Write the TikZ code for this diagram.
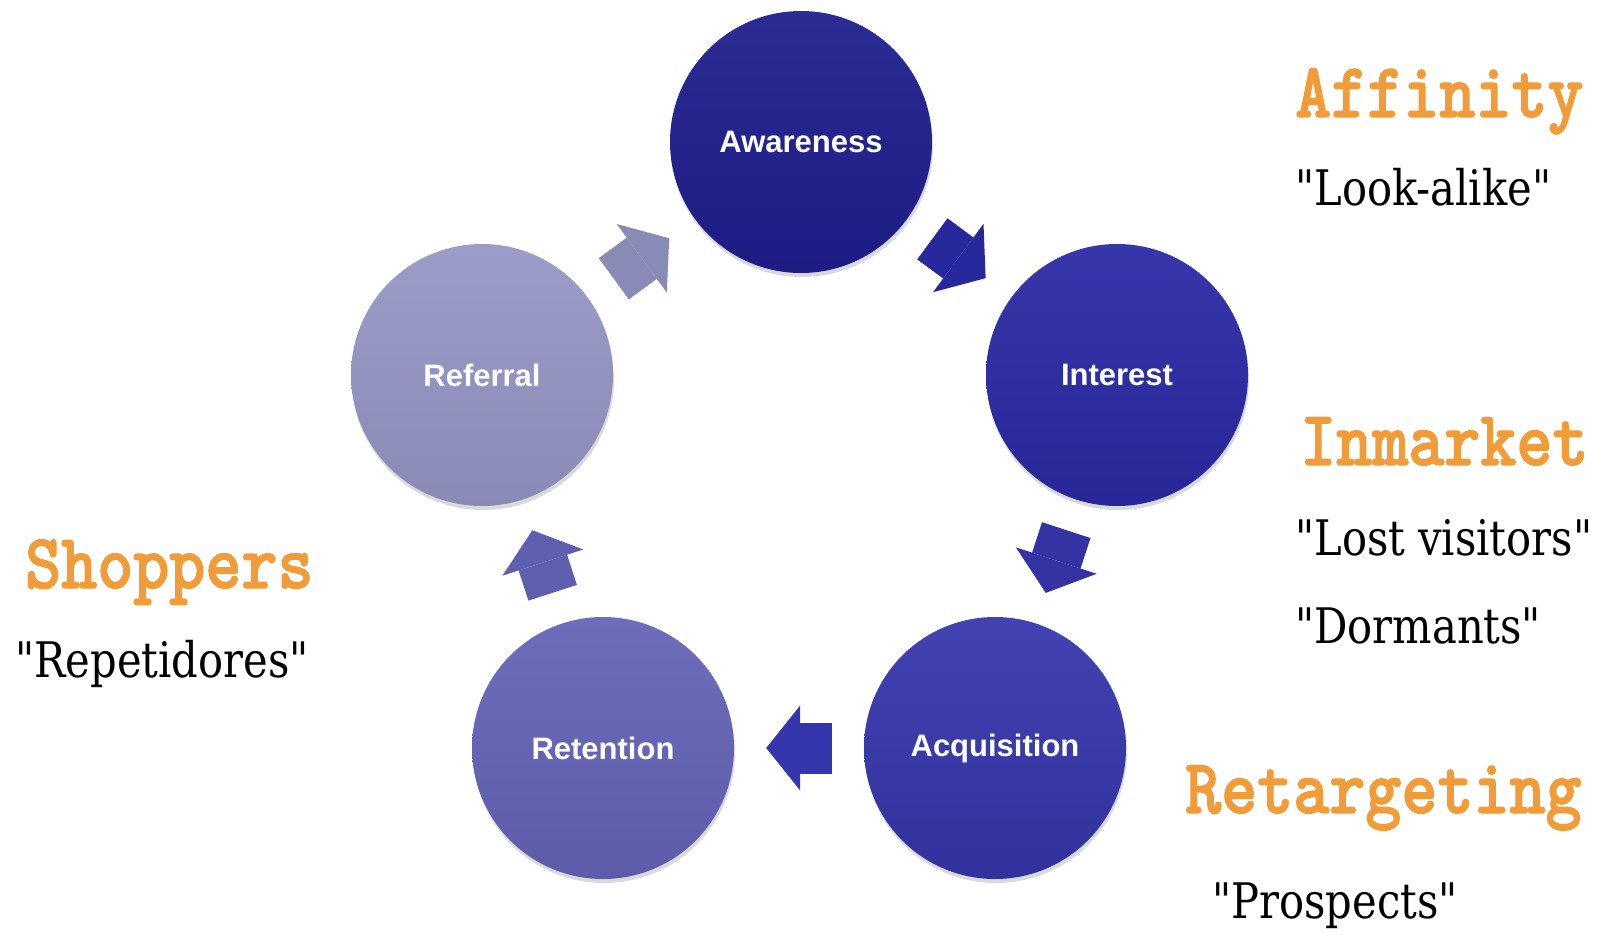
\documentclass[tikz,border=0pt]{standalone}
\usepackage{fontspec}
\usepackage{xcolor}
\usepackage{tikz}
\usetikzlibrary{arrows.meta}
\usetikzlibrary{shadows}
\setmainfont{Liberation Sans}
\newfontfamily\tagfont[FakeStretch=0.88, FakeBold=1.6]{lmmonolt10-bold.otf}
\newfontfamily\sayfont[FakeStretch=0.85]{DejaVu Serif}
\definecolor{awablue}{RGB}{30,30,142}
\definecolor{intblue}{RGB}{42,42,165}
\definecolor{acqblue}{RGB}{54,54,172}
\definecolor{retblue}{RGB}{100,100,184}
\definecolor{refblue}{RGB}{150,150,198}
\definecolor{tagorange}{RGB}{241,156,56}

\begin{document}
\begin{tikzpicture}[x=1pt,y=-1pt,
    stage/.style={circle, minimum size=262pt, inner sep=0pt, text=white,
        font=\bfseries\fontsize{31}{33}\selectfont,
        drop shadow={opacity=0.3, shadow xshift=1pt, shadow yshift=-4pt}},
    flow/.style={line width=51pt, shorten <=32pt, shorten >=32pt,
        -{Triangle[length=34pt, width=85pt, line width=0pt]}},
    tag/.style={anchor=base west, inner sep=0pt, text=tagorange,
        font=\tagfont\fontsize{78}{80}\selectfont},
    saying/.style={anchor=base west, inner sep=0pt,
        font=\sayfont\fontsize{49}{52}\selectfont}]
    \useasboundingbox (0,0) rectangle (1610,945);

    % Cycle stages
    \node[stage, top color=awablue!94!white, bottom color=awablue!92!black] (awa) at (801,142) {Awareness};
    \node[stage, top color=intblue!94!white, bottom color=intblue!92!black] (int) at (1117,375) {Interest};
    \node[stage, top color=acqblue!94!white, bottom color=acqblue!92!black] (acq) at (995,748) {Acquisition};
    \node[stage, top color=retblue!94!white, bottom color=retblue!92!black] (ret) at (603,748) {Retention};
    \node[stage, top color=refblue!94!white, bottom color=refblue!92!black] (ref) at (482,375) {Referral};

    % Arrows between stages
    \draw[flow, refblue!92!black] (ref) -- (awa);
    \draw[flow, intblue!95!black] (awa) -- (int);
    \draw[flow, acqblue!95!black] (int) -- (acq);
    \draw[flow, acqblue] (acq) -- (ret);
    \draw[flow, retblue!95!black] (ret) -- (ref);

    % Audiences
    \node[tag] (affinity) at (1295,117) {Affinity};
    \node[saying] (lookalike) at (1295,205) {"Look-alike"};
    \node[tag] (inmarket) at (1300,465) {Inmarket};
    \node[saying] (lost) at (1295,555) {"Lost visitors"};
    \node[saying] (dormants) at (1295,643) {"Dormants"};
    \node[tag] (retargeting) at (1185,813) {Retargeting};
    \node[saying] (prospects) at (1212,918) {"Prospects"};
    \node[tag] (shoppers) at (25,588) {Shoppers};
    \node[saying] (repetidores) at (15,677) {"Repetidores"};
\end{tikzpicture}
\end{document}
